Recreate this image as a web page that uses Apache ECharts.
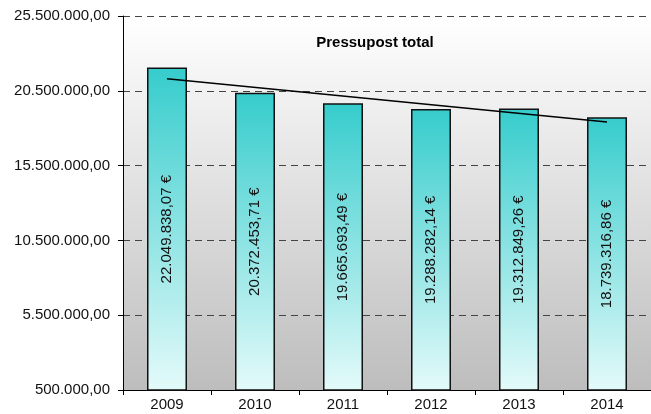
<!DOCTYPE html>
<html>
<head>
<meta charset="utf-8">
<script src="https://cdn.jsdelivr.net/npm/echarts@6/dist/echarts.min.js"></script>
<style>html,body{margin:0;padding:0;background:#fff}#c{width:651px;height:414px}</style>
</head>
<body>
<div id="c"></div>
<script>
const categories = ['2009', '2010', '2011', '2012', '2013', '2014'];
const budget = [22049838.07, 20372453.71, 19665693.49, 19288282.14, 19312849.26, 18739316.86];
const trend = [21300000, null, null, null, null, 18420000];
const yTicks = [500000, 5500000, 10500000, 15500000, 20500000, 25500000];
const titleText = 'Pressupost total';

function fmt(v) {
  const parts = v.toFixed(2).split('.');
  parts[0] = parts[0].replace(/\B(?=(\d{3})+(?!\d))/g, '.');
  return parts[0] + ',' + parts[1];
}

const chart = echarts.init(document.getElementById('c'), null, {renderer: 'canvas'});
const FONT = '"Liberation Sans", Arial, sans-serif';
chart.setOption({
  animation: false,
  textStyle: {fontFamily: FONT},
  grid: {
    left: 123, right: 0, top: 16, bottom: 24,
    show: true, borderWidth: 0,
    backgroundColor: new echarts.graphic.LinearGradient(0, 0, 0, 1, [
      {offset: 0, color: '#ffffff'},
      {offset: 1, color: '#bdbdbd'}
    ])
  },
  graphic: [{
    type: 'text', x: 375, y: 43,
    style: {text: titleText, font: 'bold 15px ' + FONT, fill: '#000', textAlign: 'center', textVerticalAlign: 'middle'}
  }],
  xAxis: {
    type: 'category', data: categories,
    axisLine: {lineStyle: {color: '#000', width: 1}},
    axisTick: {show: true, length: 5, lineStyle: {color: '#000'}},
    axisLabel: {color: '#111', fontSize: 15, margin: 7, fontFamily: FONT}
  },
  yAxis: {
    type: 'value', min: yTicks[0], max: yTicks[yTicks.length - 1], interval: 5000000,
    axisLine: {show: true, lineStyle: {color: '#000', width: 1}},
    axisTick: {show: true, length: 5, lineStyle: {color: '#000'}},
    axisLabel: {color: '#111', fontSize: 15, margin: 13, fontFamily: FONT, formatter: v => fmt(v)},
    splitLine: {show: true, lineStyle: {color: '#444', width: 1, type: [7, 5]}}
  },
  series: [{
    type: 'bar', data: budget, barWidth: 40,
    itemStyle: {
      borderColor: '#111', borderWidth: 1.5,
      color: new echarts.graphic.LinearGradient(0, 0, 0, 1, [
        {offset: 0, color: '#36cccc'},
        {offset: 1, color: '#e4fafa'}
      ])
    },
    label: {
      show: true, position: 'inside', rotate: 90, color: '#111', fontSize: 15, fontFamily: FONT,
      formatter: p => fmt(p.value) + ' €'
    }
  }, {
    type: 'line', data: trend, connectNulls: true, symbol: 'none',
    lineStyle: {color: '#000', width: 1.5}, z: 5
  }]
});
</script>
</body>
</html>
